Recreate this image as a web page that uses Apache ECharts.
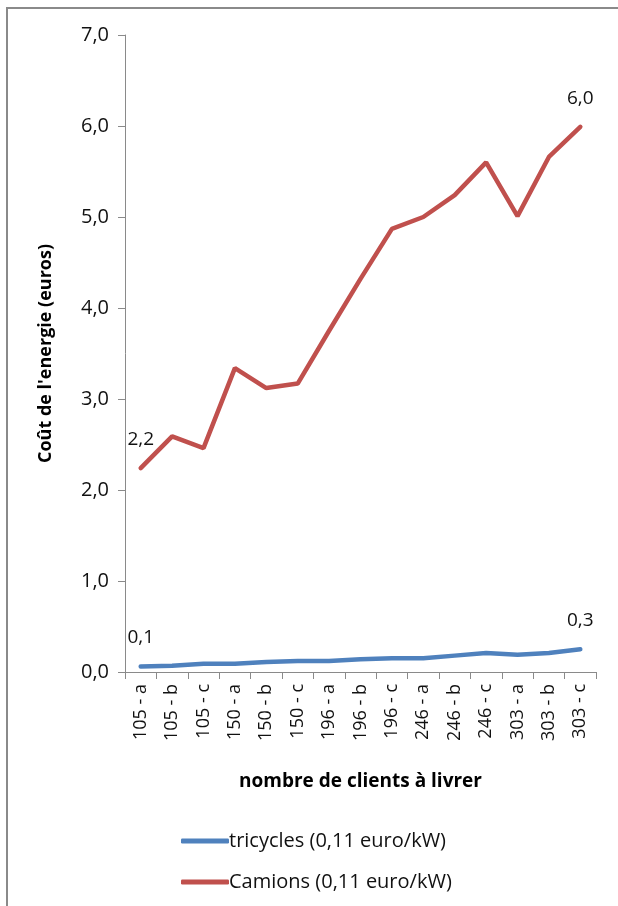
<!DOCTYPE html>
<html>
<head>
<meta charset="utf-8">
<script src="https://cdn.jsdelivr.net/npm/echarts@6/dist/echarts.min.js"></script>
<style>
  html, body { margin: 0; padding: 0; background: #fff; }
  #chart { width: 618px; height: 906px; }
</style>
</head>
<body>
<div id="chart"></div>
<script>
// catégories (nombre de clients - scénario)
var categories = ['105 - a', '105 - b', '105 - c', '150 - a', '150 - b', '150 - c',
  '196 - a', '196 - b', '196 - c', '246 - a', '246 - b', '246 - c',
  '303 - a', '303 - b', '303 - c']
var tricycles = [0.06, 0.07, 0.09, 0.09, 0.11, 0.12, 0.12, 0.14, 0.15, 0.15, 0.18, 0.21, 0.19, 0.21, 0.25]
var camions = [2.24, 2.59, 2.46, 3.34, 3.12, 3.17, 3.75, 4.32, 4.87, 5.00, 5.24, 5.60, 5.01, 5.66, 5.99]
var seriesNames = ['tricycles (0,11 euro/kW)', 'Camions (0,11 euro/kW)']

var FONT = '"Open Sans", "Noto Sans", sans-serif'

function fmt(v) {
  return Number(v).toFixed(1).replace('.', ',')
}

// étiquettes seulement sur le premier et le dernier point
function withEndLabels(arr) {
  return arr.map(function (v, i) {
    var show = i === 0 || i === arr.length - 1
    return { value: v, label: { show: show } }
  })
}

function lineSeries(name, values, color) {
  return {
    name: name,
    type: 'line',
    data: withEndLabels(values),
    symbol: 'circle',
    symbolSize: 2,
    showAllSymbol: true,
    color: color,
    itemStyle: { color: color },
    lineStyle: { width: 4.5, color: color, cap: 'round' },
    label: {
      show: false,
      position: 'top',
      distance: 18,
      fontFamily: FONT,
      fontSize: 19,
      color: '#111',
      formatter: function (p) { return fmt(p.value) }
    }
  }
}

var myChart = echarts.init(document.getElementById('chart'))
myChart.setOption({
  animation: false,
  graphic: [{
    type: 'rect',
    shape: { x: 7, y: 8, width: 700, height: 1000 },
    style: { fill: 'none', stroke: '#8a8a8a', lineWidth: 2 },
    silent: true
  }],
  grid: {
    left: 125,
    right: 22,
    top: 35,
    bottom: 234
  },
  legend: {
    orient: 'vertical',
    left: 176,
    top: 826,
    itemGap: 21,
    itemWidth: 48,
    itemHeight: 5,
    icon: 'roundRect',
    data: seriesNames,
    textStyle: { fontFamily: FONT, fontSize: 20, color: '#111', padding: [0, 0, 0, -5] }
  },
  xAxis: {
    type: 'category',
    data: categories,
    boundaryGap: true,
    name: 'nombre de clients à livrer',
    nameLocation: 'middle',
    nameGap: 100,
    nameTextStyle: { fontFamily: FONT, fontSize: 19, fontWeight: 'bold', color: '#000' },
    axisLine: { lineStyle: { color: '#8a8a8a', width: 1 } },
    axisTick: { show: true, alignWithLabel: false, length: 7, lineStyle: { color: '#8a8a8a' } },
    axisLabel: {
      rotate: 90,
      interval: 0,
      margin: 12,
      fontFamily: FONT,
      fontSize: 18,
      color: '#111'
    },
    splitLine: { show: false }
  },
  yAxis: {
    type: 'value',
    min: 0,
    max: 7,
    interval: 1,
    name: "Coût de l'energie (euros)",
    nameLocation: 'middle',
    nameRotate: 90,
    nameGap: 70,
    nameTextStyle: { fontFamily: FONT, fontSize: 18, fontWeight: 'bold', color: '#000' },
    axisLine: { show: true, lineStyle: { color: '#8a8a8a', width: 1 } },
    axisTick: { show: true, length: 7, inside: false, lineStyle: { color: '#8a8a8a' } },
    axisLabel: {
      margin: 16,
      fontFamily: FONT,
      fontSize: 20,
      color: '#111',
      formatter: function (v) { return fmt(v) }
    },
    splitLine: { show: false }
  },
  series: [
    lineSeries(seriesNames[0], tricycles, '#4f81bd'),
    lineSeries(seriesNames[1], camions, '#c0504d')
  ]
})
</script>
</body>
</html>
